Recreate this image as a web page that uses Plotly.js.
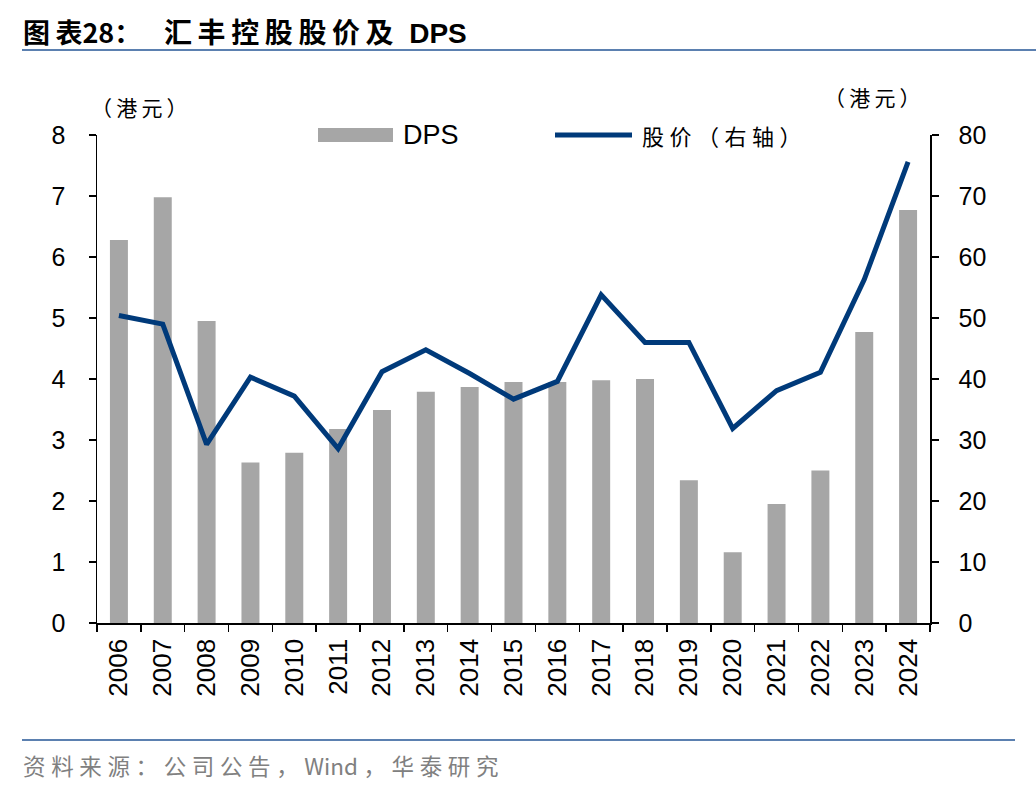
<!DOCTYPE html>
<html><head><meta charset="utf-8">
<script src="https://cdn.plot.ly/plotly-3.0.1.min.js"></script>
<style>html,body{margin:0;padding:0;background:#fff;}#chart{width:1036px;height:792px;}</style>
</head><body><div id="chart"></div>
<script>
const years = ['2006','2007','2008','2009','2010','2011','2012','2013','2014','2015','2016','2017','2018','2019','2020','2021','2022','2023','2024'];
const dps = [6.28, 6.98, 4.95, 2.63, 2.79, 3.18, 3.49, 3.79, 3.87, 3.95, 3.95, 3.98, 4.00, 2.34, 1.16, 1.95, 2.50, 4.77, 6.77];
const price = [50.4, 49.0, 29.3, 40.3, 37.2, 28.6, 41.2, 44.8, 40.9, 36.7, 39.6, 53.8, 46.0, 46.0, 31.9, 38.1, 41.1, 56.3, 75.6];
const leftTicks = [0,1,2,3,4,5,6,7,8];
const rightTicks = [0,10,20,30,40,50,60,70,80];

const W = 1036, H = 792, L = 97, R = 930, T = 135, B = 623;
const px = x => (x - L) / (R - L);
const py = y => (B - y) / (B - T);
const sp = (s, g) => Array.from(s).join(g || '\u2009');
const navy = '#003a7a', gray = '#a6a6a6';
const latin = 'Liberation Sans, Arial, sans-serif';
const cjk = 'Noto Sans CJK SC, sans-serif';
const yTickFont = {family: latin, size: 25, color: '#000'};
const xTickFont = {family: latin, size: 26, color: '#000'};

const traces = [
  {type: 'bar', x: years, y: dps, name: 'DPS', marker: {color: gray}, width: 0.41, yaxis: 'y'},
  {type: 'scatter', mode: 'lines', x: years, y: price, name: '股价（右轴）', line: {color: navy, width: 5}, yaxis: 'y2'}
];

const layout = {
  width: W, height: H,
  margin: {l: L, r: W - R, t: T, b: H - B},
  paper_bgcolor: '#fff', plot_bgcolor: '#fff',
  showlegend: false,
  xaxis: {type: 'category', tickangle: -90, tickfont: xTickFont, showline: true, linecolor: '#000', linewidth: 1.5,
          ticks: 'outside', tickson: 'boundaries', ticklen: 7, tickwidth: 1.5, tickcolor: '#000', showgrid: false, zeroline: false,
          ticklabelstandoff: 4},
  yaxis: {range: [0, 8], tickvals: leftTicks, tickfont: yTickFont, showline: true, linecolor: '#000', linewidth: 1.5,
          ticks: 'outside', ticklen: 7, tickwidth: 1.5, tickcolor: '#000', showgrid: false, zeroline: false, ticklabelstandoff: 18},
  yaxis2: {range: [0, 80], tickvals: rightTicks, overlaying: 'y', side: 'right', tickfont: yTickFont, showline: true, linecolor: '#000', linewidth: 1.5,
          ticks: 'outside', ticklen: 7, tickwidth: 1.5, tickcolor: '#000', showgrid: false, zeroline: false, ticklabelstandoff: 15},
  shapes: [
    {type: 'line', xref: 'paper', yref: 'paper', x0: px(22), x1: px(1036), y0: py(50), y1: py(50), line: {color: '#5b80b0', width: 2}},
    {type: 'line', xref: 'paper', yref: 'paper', x0: px(22), x1: px(1015), y0: py(740), y1: py(740), line: {color: '#5b80b0', width: 2}},
    {type: 'rect', xref: 'paper', yref: 'paper', x0: px(318), x1: px(393), y0: py(142), y1: py(128), fillcolor: gray, line: {width: 0}},
    {type: 'line', xref: 'paper', yref: 'paper', x0: px(555), x1: px(632), y0: py(135), y1: py(135), line: {color: navy, width: 5}}
  ],
  annotations: [
    {xref: 'paper', yref: 'paper', x: px(21), y: py(31), xanchor: 'left', yanchor: 'middle', showarrow: false,
     text: '<b>' + sp('图表') + '28：</b>', font: {family: cjk, size: 27, color: '#000'}},
    {xref: 'paper', yref: 'paper', x: px(162), y: py(31), xanchor: 'left', yanchor: 'middle', showarrow: false,
     text: '<b>' + sp('汇丰控股股价及') + '<span style="font-family:Liberation Sans, Arial, sans-serif">  DPS</span></b>',
     font: {family: cjk, size: 28, color: '#000'}},
    {xref: 'paper', yref: 'paper', x: px(139), y: py(107), xanchor: 'center', yanchor: 'middle', showarrow: false,
     text: sp('（港元）'), font: {family: cjk, size: 21, color: '#000'}},
    {xref: 'paper', yref: 'paper', x: px(872), y: py(97), xanchor: 'center', yanchor: 'middle', showarrow: false,
     text: sp('（港元）'), font: {family: cjk, size: 21, color: '#000'}},
    {xref: 'paper', yref: 'paper', x: px(401), y: py(135), xanchor: 'left', yanchor: 'middle', showarrow: false,
     text: 'DPS', font: {family: latin, size: 27, color: '#000'}},
    {xref: 'paper', yref: 'paper', x: px(640), y: py(135), xanchor: 'left', yanchor: 'middle', showarrow: false,
     text: sp('股价（右轴）', '\u2005'), font: {family: cjk, size: 22, color: '#000'}},
    {xref: 'paper', yref: 'paper', x: px(21), y: py(765), xanchor: 'left', yanchor: 'middle', showarrow: false,
     text: sp('资料来源：公司公告，', '\u2005') + '\u2005Wind\u2005' + sp('，华泰研究', '\u2005'), font: {family: cjk, size: 22.5, color: '#808080'}}
  ]
};
Plotly.newPlot('chart', traces, layout, {displayModeBar: false, staticPlot: true});
</script></body></html>
